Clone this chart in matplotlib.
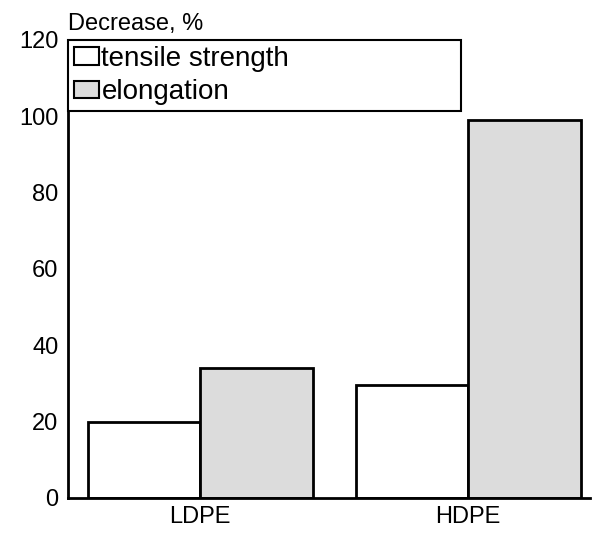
import numpy as np
import matplotlib.pyplot as plt

plt.rcParams['font.family'] = ['Liberation Sans', 'DejaVu Sans']

materials = ["LDPE", "HDPE"]
tensile_strength = [20, 29.5]
elongation = [34, 99]
yticks = [0, 20, 40, 60, 80, 100, 120]

fig = plt.figure(figsize=(5.92, 5.33), dpi=100)
ax = fig.add_axes([0.115, 0.066, 0.882, 0.859])

x = np.arange(len(materials))
w = 0.42
ax.bar(x - w / 2, tensile_strength, w, color="white", edgecolor="black",
       linewidth=2, label="tensile strength")
ax.bar(x + w / 2, elongation, w, color="#dcdcdc", edgecolor="black",
       linewidth=2, label="elongation")

ax.set_xlim(-0.493, 1.455)
ax.set_ylim(0, 120)
ax.set_xticks(x)
ax.set_xticklabels(materials)
ax.set_yticks(yticks)
ax.tick_params(length=0, labelsize=17)
ax.tick_params(axis="y", pad=7)
ax.tick_params(axis="x", pad=6)

for side in ("top", "right"):
    ax.spines[side].set_visible(False)
for side in ("left", "bottom"):
    ax.spines[side].set_linewidth(2)

# wide legend box anchored to the top-left corner of the axes
leg = ax.legend(loc="upper left", bbox_to_anchor=(0, 0.85, 0.753, 0.15),
                mode="expand", borderaxespad=0, fontsize=20,
                handlelength=0.9, handleheight=0.6, handletextpad=0.1,
                borderpad=0.2, labelspacing=0.28, fancybox=False)
leg.get_frame().set_edgecolor("black")
leg.get_frame().set_linewidth(1.5)
leg.get_frame().set_alpha(1)
for h in leg.legend_handles:
    h.set_linewidth(1.5)

ax.text(0.0, 1.01, "Decrease, %", transform=ax.transAxes, fontsize=17,
        ha="left", va="bottom")

fig.savefig("out.png", dpi=100)
